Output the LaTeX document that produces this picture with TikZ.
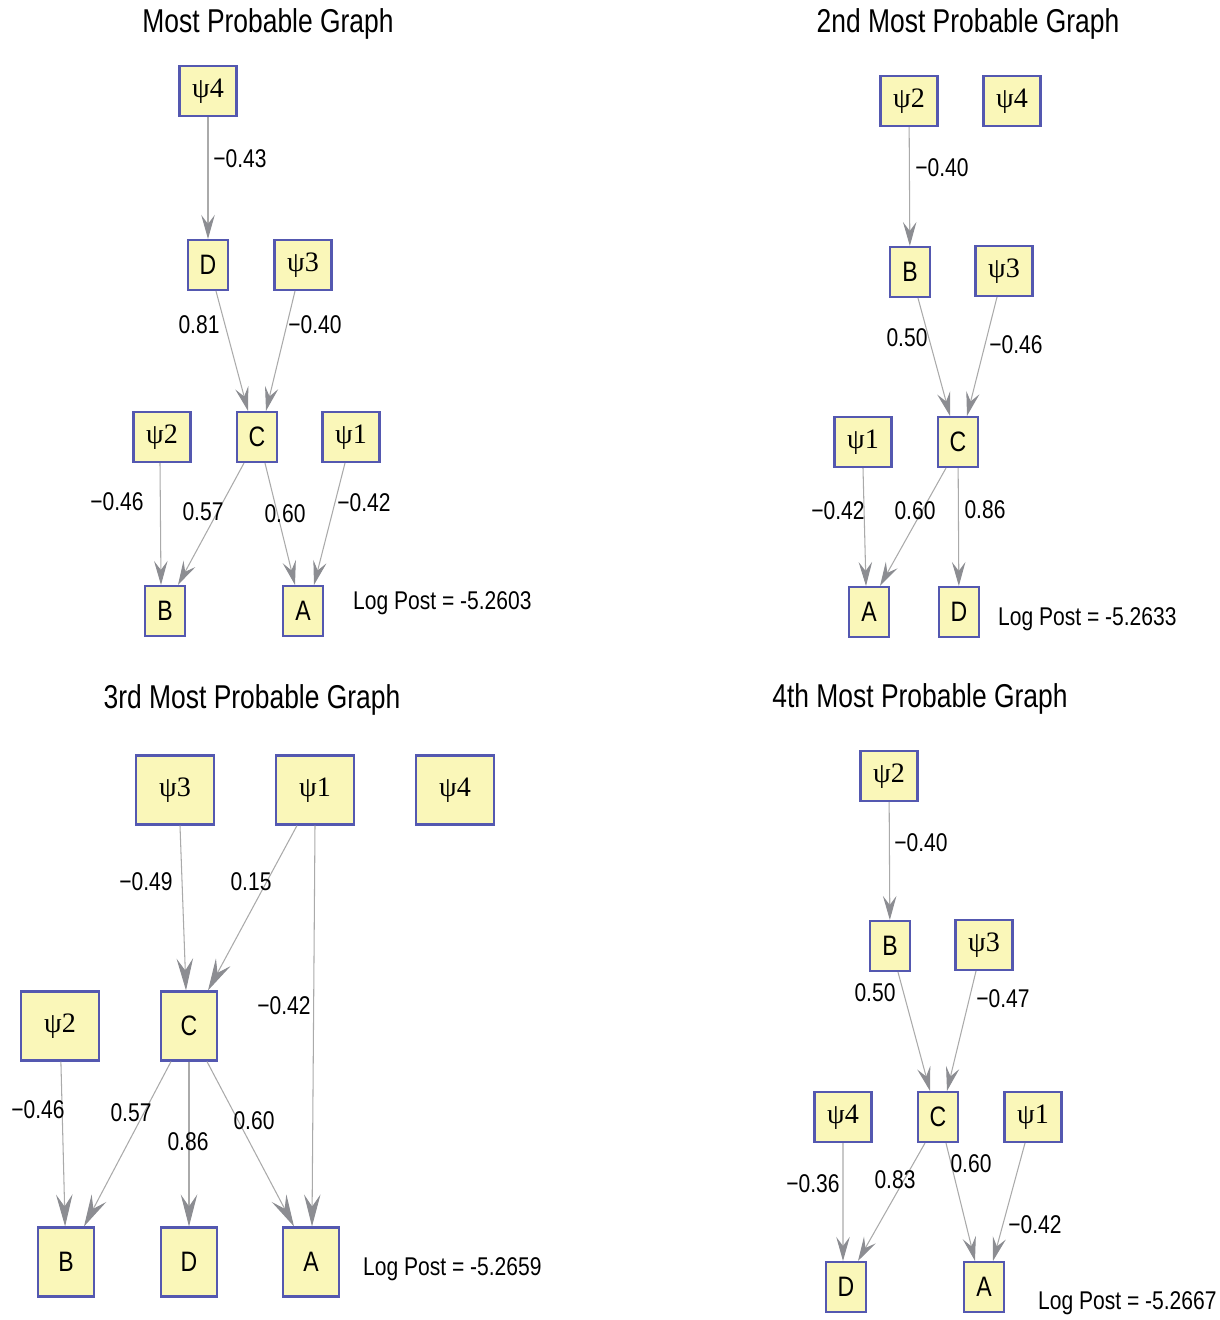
\documentclass[tikz,border=0pt]{standalone}
\usepackage{fontspec}
\setmainfont{Liberation Sans}[FakeStretch=0.82]
\newfontfamily\psifont{Liberation Serif}
\newfontfamily\titlefont{Liberation Sans}[FakeStretch=0.80]
\usetikzlibrary{arrows.meta}
\definecolor{nodefill}{RGB}{250,247,185}
\definecolor{nodeedge}{RGB}{84,88,176}
\definecolor{linegray}{RGB}{170,170,170}
\definecolor{headgray}{RGB}{140,141,146}
\newcommand{\psiv}[1]{{\psifont ψ#1}}

\begin{document}
\begin{tikzpicture}[
  x=0.02cm,y=-0.02cm,
  font=\fontsize{14.6pt}{17pt}\selectfont,
  var/.style={draw=nodeedge,fill=nodefill,line width=1.2pt,inner sep=0pt,
              minimum width=0.8cm,minimum height=1cm,
              font=\fontsize{16pt}{18pt}\selectfont},
  psi/.style={var,minimum width=1.14cm},
  bigvar/.style={var,minimum width=1.12cm,minimum height=1.38cm},
  bigpsi/.style={bigvar,minimum width=1.57cm},
  arr/.style={draw=linegray,line width=0.6pt,
              -{Stealth[length=4.8mm,width=2.7mm,inset=1.8mm,color=headgray]}},
  bigarr/.style={arr,-{Stealth[length=6.4mm,width=3.3mm,inset=2.4mm,color=headgray]}},
  ttl/.style={font=\titlefont\fontsize{18.8pt}{21pt}\selectfont},
  logp/.style={anchor=west}
]
\useasboundingbox (0,0) rectangle (1220,1320);

% most probable graph
\node[ttl] (t1) at (268,24) {Most Probable Graph};
\node[psi] (psi4-1) at (208,91) {\psiv4};
\node[var] (D-1) at (208,265) {D};
\node[psi] (psi3-1) at (303,265) {\psiv3};
\node[psi] (psi2-1) at (162,437) {\psiv2};
\node[var] (C-1) at (257,437) {C};
\node[psi] (psi1-1) at (351,437) {\psiv1};
\node[var] (B-1) at (165,611) {B};
\node[var] (A-1) at (303,611) {A};
\node[logp] (lp1) at (347,603) {Log Post = -5.2603};
\draw[arr] (psi4-1) -- (D-1);
\draw[arr] ([xshift=1.6mm]D-1.south) -- ([xshift=-1.8mm]C-1.north);
\draw[arr] ([xshift=-1.6mm]psi3-1.south) -- ([xshift=1.8mm]C-1.north);
\draw[arr] ([xshift=-0.4mm]psi2-1.south) -- ([xshift=-0.8mm]B-1.north);
\draw[arr] ([xshift=-2.6mm]C-1.south) -- ([xshift=2.6mm]B-1.north);
\draw[arr] ([xshift=1.6mm]C-1.south) -- ([xshift=-1.6mm]A-1.north);
\draw[arr] ([xshift=-1.2mm]psi1-1.south) -- ([xshift=2.2mm]A-1.north);
\node (w1a) at (240,159) {−0.43};
\node (w1b) at (199,325) {0.81};
\node (w1c) at (315,325) {−0.40};
\node (w1d) at (117,502) {−0.46};
\node (w1e) at (203,512) {0.57};
\node (w1f) at (285,514) {0.60};
\node (w1g) at (364,503) {−0.42};

% 2nd most probable graph
\node[ttl] (t2) at (968,24) {2nd Most Probable Graph};
\node[psi] (psi2-2) at (909,101) {\psiv2};
\node[psi] (psi4-2) at (1012,101) {\psiv4};
\node[var] (B-2) at (910,272) {B};
\node[psi] (psi3-2) at (1004,271) {\psiv3};
\node[psi] (psi1-2) at (863,442) {\psiv1};
\node[var] (C-2) at (958,442) {C};
\node[var] (A-2) at (869,612) {A};
\node[var] (D-2) at (959,612) {D};
\node[logp] (lp2) at (992,619) {Log Post = -5.2633};
\draw[arr] (psi2-2) -- (B-2);
\draw[arr] ([xshift=1.6mm]B-2.south) -- ([xshift=-1.6mm]C-2.north);
\draw[arr] ([xshift=-1.4mm]psi3-2.south) -- ([xshift=1.8mm]C-2.north);
\draw[arr] (psi1-2.south) -- ([xshift=-0.6mm]A-2.north);
\draw[arr] ([xshift=-2.4mm]C-2.south) -- ([xshift=2.2mm]A-2.north);
\draw[arr] (C-2) -- (D-2);
\node (w2a) at (942,168) {−0.40};
\node (w2b) at (907,338) {0.50};
\node (w2c) at (1016,345) {−0.46};
\node (w2d) at (838,511) {−0.42};
\node (w2e) at (915,511) {0.60};
\node (w2f) at (985,510) {0.86};

% 3rd most probable graph
\node[ttl] (t3) at (252,700) {3rd Most Probable Graph};
\node[bigpsi] (psi3-3) at (175,790) {\psiv3};
\node[bigpsi] (psi1-3) at (315,790) {\psiv1};
\node[bigpsi] (psi4-3) at (455,790) {\psiv4};
\node[bigpsi] (psi2-3) at (60,1026) {\psiv2};
\node[bigvar] (C-3) at (189,1026) {C};
\node[bigvar] (B-3) at (66,1262) {B};
\node[bigvar] (D-3) at (189,1262) {D};
\node[bigvar] (A-3) at (311,1262) {A};
\node[logp] (lp3) at (357,1269) {Log Post = -5.2659};
\draw[bigarr] ([xshift=1mm]psi3-3.south) -- ([xshift=-0.6mm]C-3.north);
\draw[bigarr] ([xshift=-3.6mm]psi1-3.south) -- ([xshift=3.8mm]C-3.north);
\draw[bigarr] (psi1-3.south) -- ([xshift=0.2mm]A-3.north);
\draw[bigarr] (psi2-3) -- (B-3);
\draw[bigarr] ([xshift=-3.6mm]C-3.south) -- ([xshift=3.6mm]B-3.north);
\draw[bigarr] (C-3) -- (D-3);
\draw[bigarr] ([xshift=3.6mm]C-3.south) -- ([xshift=-3.4mm]A-3.north);
\node (w3a) at (146,882) {−0.49};
\node (w3b) at (251,882) {0.15};
\node (w3c) at (284,1006) {−0.42};
\node (w3d) at (38,1110) {−0.46};
\node (w3e) at (131,1113) {0.57};
\node (w3f) at (188,1142) {0.86};
\node (w3g) at (254,1121) {0.60};

% 4th most probable graph
\node[ttl] (t4) at (920,699) {4th Most Probable Graph};
\node[psi] (psi2-4) at (889,776) {\psiv2};
\node[var] (B-4) at (890,946) {B};
\node[psi] (psi3-4) at (984,945) {\psiv3};
\node[psi] (psi4-4) at (843,1117) {\psiv4};
\node[var] (C-4) at (938,1117) {C};
\node[psi] (psi1-4) at (1033,1117) {\psiv1};
\node[var] (D-4) at (846,1287) {D};
\node[var] (A-4) at (984,1287) {A};
\node[logp] (lp4) at (1032,1303) {Log Post = -5.2667};
\draw[arr] (psi2-4) -- (B-4);
\draw[arr] ([xshift=1.6mm]B-4.south) -- ([xshift=-1.6mm]C-4.north);
\draw[arr] ([xshift=-1.6mm]psi3-4.south) -- ([xshift=1.8mm]C-4.north);
\draw[arr] (psi4-4.south) -- ([xshift=-0.6mm]D-4.north);
\draw[arr] ([xshift=-2.6mm]C-4.south) -- ([xshift=2.4mm]D-4.north);
\draw[arr] ([xshift=1.6mm]C-4.south) -- ([xshift=-1.8mm]A-4.north);
\draw[arr] ([xshift=-1.6mm]psi1-4.south) -- ([xshift=1.8mm]A-4.north);
\node (w4a) at (921,843) {−0.40};
\node (w4b) at (875,993) {0.50};
\node (w4c) at (1003,999) {−0.47};
\node (w4d) at (813,1184) {−0.36};
\node (w4e) at (895,1180) {0.83};
\node (w4f) at (971,1164) {0.60};
\node (w4g) at (1035,1225) {−0.42};
\end{tikzpicture}
\end{document}
